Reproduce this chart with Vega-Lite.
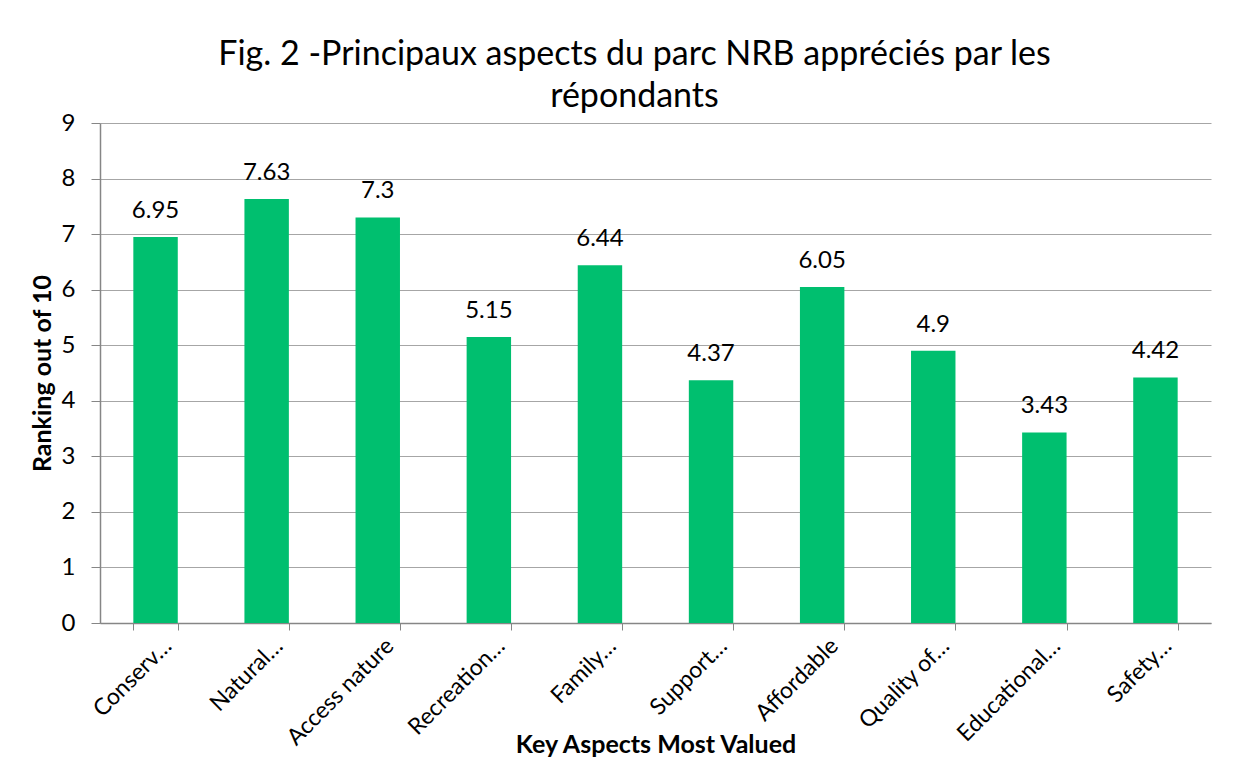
{
  "$schema": "https://vega.github.io/schema/vega-lite/v6.json",
  "width": 1111,
  "height": 500,
  "autosize": {"type": "none"},
  "padding": {"left": 100, "top": 123, "right": 37, "bottom": 134},
  "background": "white",
  "title": {
    "text": ["Fig. 2 -Principaux aspects du parc NRB appréciés par les", "répondants"],
    "anchor": "middle",
    "frame": "group",
    "dx": -21,
    "dy": 3,
    "fontSize": 34,
    "lineHeight": 42,
    "font": "Lato",
    "fontWeight": "normal",
    "color": "#000000",
    "offset": 0
  },
  "data": {
    "values": [
      {"aspect": "Conserv…", "score": 6.95},
      {"aspect": "Natural…", "score": 7.63},
      {"aspect": "Access nature", "score": 7.3},
      {"aspect": "Recreation…", "score": 5.15},
      {"aspect": "Family…", "score": 6.44},
      {"aspect": "Support…", "score": 4.37},
      {"aspect": "Affordable", "score": 6.05},
      {"aspect": "Quality of…", "score": 4.9},
      {"aspect": "Educational…", "score": 3.43},
      {"aspect": "Safety…", "score": 4.42}
    ]
  },
  "encoding": {
    "x": {
      "field": "aspect",
      "type": "nominal",
      "sort": null,
      "scale": {"paddingInner": 0.6, "paddingOuter": 0.3},
      "axis": {
        "title": "Key Aspects Most Valued",
        "titleFont": "Lato",
        "titleFontSize": 25,
        "titleFontWeight": "bold",
        "titleColor": "#000000",
        "titleBaseline": "alphabetic",
        "titleY": 129,
        "labelAngle": -45,
        "labelAlign": "right",
        "labelBaseline": "middle",
        "labelFont": "Lato",
        "labelFontSize": 23,
        "labelColor": "#000000",
        "labelPadding": 12,
        "labelOffset": 12,
        "labelLimit": 300,
        "tickBand": "extent",
        "tickSize": 7,
        "tickColor": "#868686",
        "domainColor": "#868686",
        "domainWidth": 1.5,
        "grid": false
      }
    },
    "y": {
      "field": "score",
      "type": "quantitative",
      "scale": {"domain": [0, 9], "nice": false},
      "axis": {
        "title": "Ranking out of 10",
        "titleFont": "Lato",
        "titleFontSize": 25,
        "titleFontWeight": "bold",
        "titleColor": "#000000",
        "titlePadding": 6,
        "values": [0, 1, 2, 3, 4, 5, 6, 7, 8, 9],
        "labelFont": "Lato",
        "labelFontSize": 24,
        "labelColor": "#000000",
        "labelPadding": 16,
        "tickSize": 9,
        "tickColor": "#868686",
        "domainColor": "#868686",
        "domainWidth": 1.5,
        "grid": true,
        "gridColor": "#A6A6A6",
        "gridWidth": 1
      }
    }
  },
  "layer": [
    {"mark": {"type": "bar", "color": "#00BF6F"}},
    {
      "mark": {"type": "text", "font": "Lato", "fontSize": 24, "color": "#000000", "baseline": "alphabetic", "dy": -19},
      "encoding": {"text": {"field": "score", "type": "quantitative"}}
    }
  ],
  "config": {"view": {"stroke": null}}
}
